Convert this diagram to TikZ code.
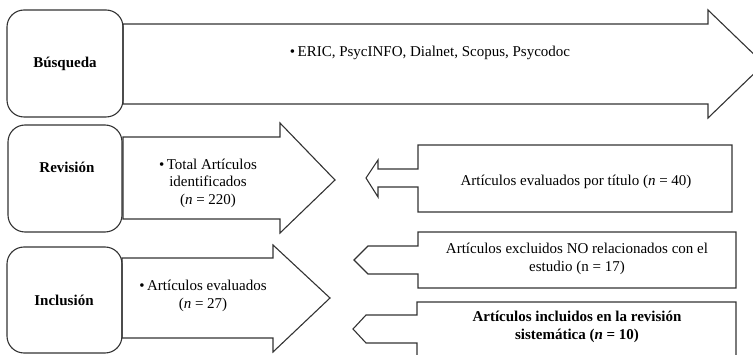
\documentclass[tikz,border=0pt]{standalone}
\usepackage{fontspec}
\setmainfont{Liberation Serif}
\tikzset{
  shp/.style={draw=black!80, line width=1.1pt, line join=miter},
  stagebox/.style={shp, rounded corners=17pt},
  txt/.style={align=center, inner sep=0pt, font=\fontsize{15}{17.5}\selectfont},
  txtb/.style={align=center, inner sep=0pt, font=\fontsize{15}{17.5}\selectfont\bfseries},
}
\begin{document}
\begin{tikzpicture}[x=1pt,y=-1pt]
			%%%%% START %%%%%
			\useasboundingbox (0,0) rectangle (753,355);
			\clip (0,0) rectangle (753,355);
			
			% stage boxes
			\draw[stagebox] (7,10) rectangle (123,117);
			\draw[stagebox] (8,125) rectangle (122,232);
			\draw[stagebox] (7,247) rectangle (122,353);
			
			% right arrows
			\draw[shp] (123,24) -- (708,24) -- (708,10) -- (764,64) -- (708,118) -- (708,104) -- (123,104) -- cycle;
			\draw[shp] (123,137) -- (280,137) -- (280,123) -- (335,180) -- (280,233) -- (280,219) -- (123,219) -- cycle;
			\draw[shp] (122,258) -- (273,258) -- (273,245) -- (330,298) -- (273,352) -- (273,338) -- (122,338) -- cycle;
			
			% callouts pointing left
			\draw[shp] (418,145) -- (732,145) -- (732,212) -- (418,212) -- (418,187) -- (378,187) -- (378,197) -- (366,178) -- (378,160) -- (378,169) -- (418,169) -- cycle;
			\draw[shp] (418,232) -- (736,232) -- (736,288) -- (418,288) -- (418,274) -- (368,274) -- (354,260) -- (368,246) -- (418,246) -- cycle;
			\draw[shp] (417,302) -- (736,302) -- (736,365) -- (417,365) -- (417,343) -- (366,343) -- (353,329) -- (366,315) -- (417,315) -- cycle;
			
			% texts
			\node[txtb] (busq) at (65,64) {Búsqueda};
			\node[txt] (bases) at (430,53) {\textbullet\,ERIC, PsycINFO, Dialnet, Scopus, Psycodoc};
			\node[txtb] (rev) at (67,167) {Revisión};
			\node[txt] (total) at (208,183) {\textbullet\,Total Artículos\\identificados\\(\textit{n} = 220)};
			\node[txtb] (incl) at (64,300) {Inclusión};
			\node[txt] (evals) at (203,296) {\textbullet\,Artículos evaluados\\(\textit{n} = 27)};
			\node[txt] (titulo) at (576,182) {Artículos evaluados por título (\textit{n} = 40)};
			\node[txt] (excl) at (577,259) {Artículos excluidos NO relacionados con el\\estudio (n = 17)};
			\node[txtb] (inclu) at (577,327) {Artículos incluidos en la revisión\\sistemática (\textit{n} = 10)};
			%%%%% END %%%%%
\end{tikzpicture}
\end{document}
